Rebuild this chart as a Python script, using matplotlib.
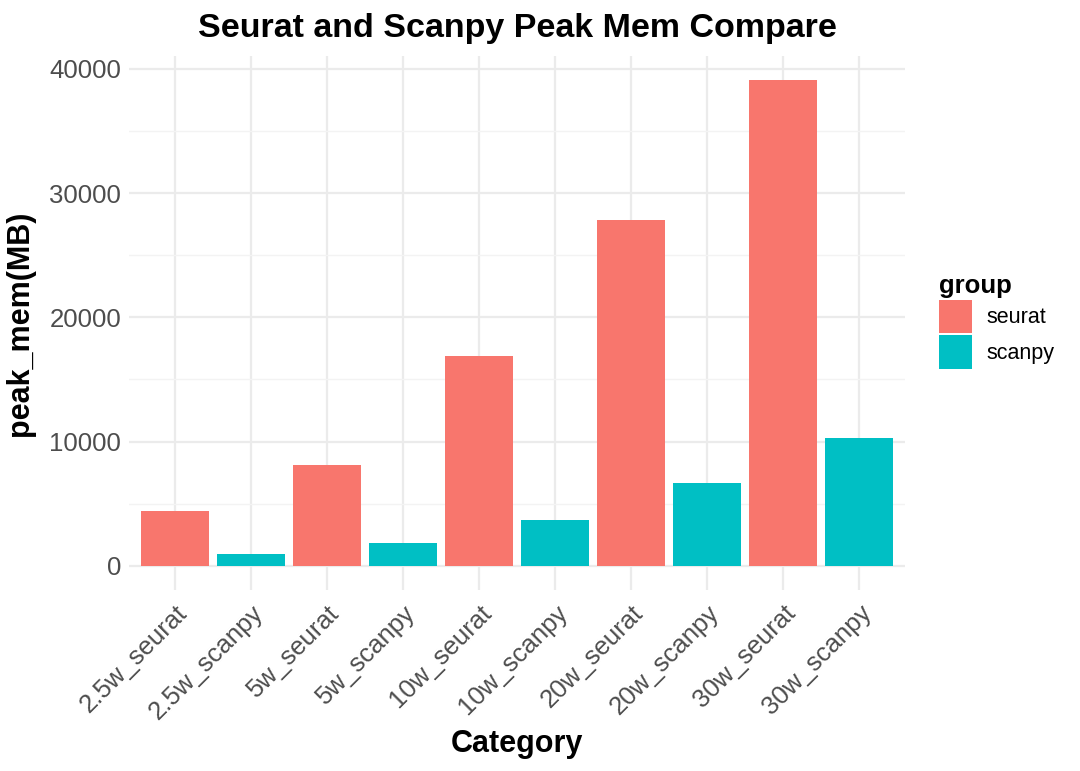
import numpy as np
import matplotlib
matplotlib.use("Agg")
import matplotlib.pyplot as plt
from matplotlib.patches import Patch
from matplotlib.ticker import MultipleLocator

plt.rcParams['font.family'] = ['Liberation Sans', 'DejaVu Sans']

categories = ["2.5w_seurat", "2.5w_scanpy", "5w_seurat", "5w_scanpy", "10w_seurat",
              "10w_scanpy", "20w_seurat", "20w_scanpy", "30w_seurat", "30w_scanpy"]
groups = ["seurat", "scanpy", "seurat", "scanpy", "seurat",
          "scanpy", "seurat", "scanpy", "seurat", "scanpy"]
peak_mem = [4420, 940, 8100, 1800, 16890, 3700, 27870, 6680, 39090, 10300]

colors = {"seurat": "#F8766D", "scanpy": "#00BFC4"}

fig = plt.figure(figsize=(10.8, 7.71), dpi=100)
ax = fig.add_axes([0.1198, 0.2348, 0.8376 - 0.1198, 0.9274 - 0.2348])

x = np.arange(len(categories))
ax.bar(x, peak_mem, width=0.9, color=[colors[g] for g in groups], zorder=2)

ymax = max(peak_mem)
ax.set_ylim(-0.05 * ymax, ymax * 1.05)
ax.set_xlim(-0.6, len(categories) - 0.4)

ax.yaxis.set_major_locator(MultipleLocator(10000))
ax.yaxis.set_minor_locator(MultipleLocator(5000))
ax.grid(which="major", color="#EBEBEB", linewidth=1.6, zorder=0)
ax.grid(which="minor", axis="y", color="#F3F3F3", linewidth=1.0, zorder=0)
ax.set_axisbelow(True)

ax.set_xticks(x)
ax.set_xticklabels(categories)
plt.setp(ax.get_xticklabels(), rotation=45, ha="right", rotation_mode="anchor")
ax.tick_params(axis="both", which="both", length=0, labelsize=18.5, labelcolor="#4D4D4D")
ax.tick_params(axis="x", pad=8)
ax.tick_params(axis="y", pad=6)

for s in ax.spines.values():
    s.set_visible(False)

ax.set_xlabel("Category", fontsize=22, fontweight="bold", labelpad=3)
ax.set_ylabel("peak_mem(MB)", fontsize=22, fontweight="bold", labelpad=10)
ax.set_title("Seurat and Scanpy Peak Mem Compare", fontsize=24.5, fontweight="bold", pad=14)

handles = [Patch(facecolor=colors["seurat"], label="seurat"),
           Patch(facecolor=colors["scanpy"], label="scanpy")]
leg = fig.legend(handles=handles, title="group", loc="upper left",
                 bbox_to_anchor=(0.869, 0.645), frameon=False, fontsize=15.5,
                 title_fontproperties={"weight": "bold", "size": 18.5},
                 handlelength=1.54, handleheight=2.0, handletextpad=0.7,
                 labelspacing=0.1, borderaxespad=0, borderpad=0)
leg._legend_box.align = "left"

fig.savefig("out.png", dpi=100)
